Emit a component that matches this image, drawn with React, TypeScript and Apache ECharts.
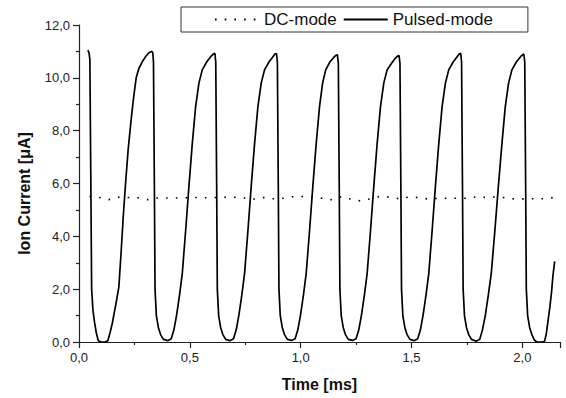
import React, { useEffect, useRef } from "react";
import * as echarts from "echarts";

// Pulsed-mode ion current (time in ms, current in µA)
const pulsedTime = [
  0.040, 0.045, 0.049, 0.053, 0.057, 0.063, 0.070, 0.078, 0.087, 0.100, 0.118, 0.130, 0.140, 0.150, 0.160, 0.170, 0.180, 0.190, 0.200, 0.210, 0.222, 0.235, 0.247, 0.258, 0.270, 0.285, 0.300, 0.315, 0.328, 0.333,
  0.336, 0.340, 0.343, 0.349, 0.358, 0.368, 0.381, 0.400, 0.416, 0.428, 0.440, 0.454, 0.466, 0.481, 0.496, 0.511, 0.526, 0.541, 0.556, 0.576, 0.594, 0.606, 0.613,
  0.617, 0.621, 0.624, 0.630, 0.639, 0.649, 0.662, 0.681, 0.697, 0.709, 0.721, 0.735, 0.747, 0.762, 0.777, 0.792, 0.807, 0.822, 0.837, 0.857, 0.875, 0.884, 0.891,
  0.895, 0.899, 0.902, 0.908, 0.917, 0.927, 0.940, 0.959, 0.975, 0.987, 0.999, 1.013, 1.025, 1.040, 1.055, 1.070, 1.085, 1.099, 1.113, 1.132, 1.150, 1.159, 1.166,
  1.170, 1.174, 1.177, 1.183, 1.192, 1.202, 1.215, 1.234, 1.250, 1.262, 1.274, 1.288, 1.300, 1.315, 1.330, 1.345, 1.360, 1.375, 1.390, 1.410, 1.428, 1.437, 1.444,
  1.448, 1.452, 1.455, 1.461, 1.470, 1.480, 1.493, 1.512, 1.528, 1.540, 1.552, 1.566, 1.578, 1.593, 1.608, 1.623, 1.638, 1.653, 1.668, 1.688, 1.706, 1.715, 1.722,
  1.726, 1.730, 1.733, 1.739, 1.748, 1.758, 1.771, 1.792, 1.808, 1.820, 1.833, 1.847, 1.860, 1.876, 1.892, 1.908, 1.923, 1.938, 1.953, 1.973, 1.992, 2.001, 2.007,
  2.011, 2.015, 2.018, 2.024, 2.033, 2.043, 2.054, 2.065, 2.085, 2.100, 2.108, 2.116, 2.124, 2.132, 2.138, 2.146,
];
const pulsedCurrent = [
  11.05, 10.95, 10.7, 6.5, 2.0, 1.2, 0.75, 0.35, 0.05, 0.0, 0.0, 0.05, 0.35, 0.7, 1.15, 1.6, 2.1, 3.4, 4.8, 6.0, 7.3, 8.4, 9.3, 10.0, 10.35, 10.6, 10.8, 10.95, 11.0, 10.95,
  10.6, 6.0, 2.0, 1.0, 0.55, 0.28, 0.1, 0.05, 0.12, 0.45, 1.0, 1.8, 2.6, 4.2, 5.9, 7.5, 8.9, 9.8, 10.3, 10.6, 10.8, 10.9, 10.93,
  10.6, 6.0, 2.0, 1.0, 0.55, 0.28, 0.1, 0.05, 0.12, 0.45, 1.0, 1.8, 2.6, 4.2, 5.9, 7.5, 8.9, 9.8, 10.3, 10.6, 10.8, 10.9, 10.92,
  10.6, 6.0, 2.0, 1.0, 0.55, 0.28, 0.1, 0.06, 0.12, 0.45, 1.0, 1.8, 2.6, 4.2, 5.9, 7.5, 8.9, 9.8, 10.3, 10.6, 10.78, 10.85, 10.87,
  10.55, 6.0, 2.0, 1.0, 0.55, 0.28, 0.1, 0.06, 0.12, 0.45, 1.0, 1.8, 2.6, 4.2, 5.9, 7.5, 8.9, 9.8, 10.3, 10.55, 10.75, 10.82, 10.84,
  10.55, 6.0, 2.0, 1.0, 0.55, 0.28, 0.1, 0.05, 0.12, 0.45, 1.0, 1.8, 2.6, 4.2, 5.9, 7.5, 8.9, 9.8, 10.3, 10.6, 10.8, 10.9, 10.93,
  10.6, 6.0, 2.0, 1.0, 0.55, 0.28, 0.1, 0.03, 0.1, 0.45, 1.0, 1.8, 2.6, 4.2, 5.9, 7.5, 8.9, 9.8, 10.3, 10.6, 10.8, 10.87, 10.9,
  10.6, 6.0, 2.0, 1.0, 0.55, 0.28, 0.08, 0.0, 0.0, 0.02, 0.3, 0.8, 1.3, 1.9, 2.5, 3.05,
];

// DC-mode ion current
const dcTime = [
  0.047, 0.091, 0.135, 0.178, 0.222, 0.266, 0.309, 0.353, 0.397, 0.440, 0.484, 0.528, 0.571, 0.615, 0.659, 0.702,
  0.746, 0.790, 0.833, 0.877, 0.921, 0.964, 1.008, 1.052, 1.095, 1.139, 1.183, 1.226, 1.270, 1.314, 1.357, 1.401,
  1.445, 1.488, 1.532, 1.576, 1.619, 1.663, 1.707, 1.750, 1.794, 1.838, 1.881, 1.925, 1.969, 2.012, 2.056, 2.100, 2.143,
];
const dcCurrent = [
  5.51, 5.47, 5.39, 5.48, 5.47, 5.46, 5.39, 5.45, 5.45, 5.45, 5.46, 5.47, 5.46, 5.47, 5.48, 5.48,
  5.45, 5.41, 5.47, 5.42, 5.44, 5.50, 5.51, 5.50, 5.44, 5.39, 5.50, 5.41, 5.34, 5.42, 5.51, 5.49,
  5.42, 5.49, 5.47, 5.41, 5.44, 5.44, 5.44, 5.44, 5.50, 5.47, 5.49, 5.46, 5.41, 5.42, 5.42, 5.42, 5.47,
];

const seriesNames = ["DC-mode", "Pulsed-mode"];
const xTitle = "Time [ms]";
const yTitle = "Ion Current [μA]";

const FONT = "'Liberation Sans', Arial, Helvetica, sans-serif";
const fmt = (v: number) => v.toFixed(1).replace(".", ",");

export default function App() {
  const ref = useRef<HTMLDivElement>(null);
  useEffect(() => {
    if (!ref.current) return;
    const chart = echarts.init(ref.current, null, { renderer: "svg" });
    const axisColor = "#222";
    chart.setOption({
      animation: false,
      backgroundColor: "#fff",
      textStyle: { fontFamily: FONT },
      grid: { left: 79, right: 6, top: 25, bottom: 56, containLabel: false },
      legend: {
        data: seriesNames,
        left: 181,
        top: 7,
        orient: "horizontal",
        itemWidth: 44,
        itemHeight: 14,
        itemGap: 6,
        padding: [4, 35, 4, 33],
        borderColor: "#333",
        borderWidth: 1,
        backgroundColor: "#fff",
        itemStyle: { color: "rgba(0,0,0,0)", borderColor: "rgba(0,0,0,0)", borderWidth: 0 },
        textStyle: { fontSize: 17, color: "#111", fontFamily: FONT },
      },
      xAxis: {
        type: "value",
        min: 0,
        max: 2.17,
        interval: 0.5,
        name: xTitle,
        nameLocation: "middle",
        nameGap: 34,
        nameTextStyle: { fontSize: 16, fontWeight: "bold", color: "#111", fontFamily: FONT },
        axisLine: { show: true, onZero: false, lineStyle: { color: axisColor, width: 1.2 } },
        axisTick: { show: true, inside: false, length: 6, lineStyle: { color: axisColor, width: 1.2 } },
        minorTick: { show: true, splitNumber: 2, length: 3, lineStyle: { color: axisColor, width: 1.2 } },
        axisLabel: {
          fontSize: 13,
          color: "#222",
          margin: 9,
          showMaxLabel: false,
          formatter: (v: number) => fmt(v),
        },
        splitLine: { show: false },
      },
      yAxis: {
        type: "value",
        min: 0,
        max: 12,
        interval: 2,
        name: yTitle,
        nameLocation: "middle",
        nameGap: 47,
        nameRotate: 90,
        nameTextStyle: {
          fontSize: 16,
          fontWeight: "bold",
          color: "#111",
          fontFamily: FONT,
          padding: [0, 20, 0, 0],
        },
        axisLine: { show: true, onZero: false, lineStyle: { color: axisColor, width: 1.2 } },
        axisTick: { show: true, inside: false, length: 6, lineStyle: { color: axisColor, width: 1.2 } },
        minorTick: { show: true, splitNumber: 2, length: 3, lineStyle: { color: axisColor, width: 1.2 } },
        axisLabel: { fontSize: 13, color: "#222", margin: 9, formatter: (v: number) => fmt(v) },
        splitLine: { show: false },
      },
      series: [
        {
          name: seriesNames[0],
          type: "line",
          symbol: "none",
          data: dcTime.map((t, i) => [t, dcCurrent[i]]),
          lineStyle: { color: "#000", width: 1.6, type: [1.6, 8.1] },
          itemStyle: { color: "#000" },
          z: 2,
        },
        {
          name: seriesNames[1],
          type: "line",
          symbol: "none",
          data: pulsedTime.map((t, i) => [t, pulsedCurrent[i]]),
          lineStyle: { color: "#000", width: 1.7 },
          itemStyle: { color: "#000" },
          z: 3,
        },
      ],
    });
    return () => chart.dispose();
  }, []);
  return <div ref={ref} style={{ width: 566, height: 398, position: "absolute", left: 0, top: 0 }} />;
}
